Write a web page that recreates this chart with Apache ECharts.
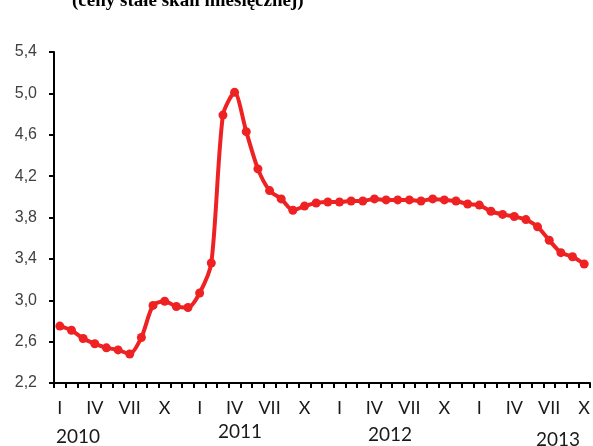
<!DOCTYPE html>
<html>
<head>
<meta charset="utf-8">
<script src="https://cdn.jsdelivr.net/npm/echarts@6/dist/echarts.min.js"></script>
<style>
  html, body { margin: 0; padding: 0; background: #fff; }
  #chart { width: 593px; height: 446px; }
</style>
</head>
<body>
<div id="chart"></div>
<script>
  // monthly labels, Jan 2010 - Oct 2013
  let romans = ['I', 'II', 'III', 'IV', 'V', 'VI', 'VII', 'VIII', 'IX', 'X', 'XI', 'XII']
  let months = []
  for (let i = 0; i < 46; i++) {
    months.push(romans[i % 12])
  }
  let years = ['2010', '2011', '2012', '2013']
  let yTicks = [2.2, 2.6, 3.0, 3.4, 3.8, 4.2, 4.6, 5.0, 5.4]

  let values = [
    2.75, 2.71, 2.63, 2.58, 2.54, 2.52, 2.48, 2.64, 2.95, 2.99, 2.94, 2.93,
    3.07, 3.36, 4.79, 5.01, 4.63, 4.27, 4.06, 3.98, 3.87, 3.91, 3.94, 3.95,
    3.95, 3.96, 3.96, 3.98, 3.97, 3.97, 3.97, 3.96, 3.98, 3.97, 3.96, 3.93,
    3.92, 3.86, 3.83, 3.81, 3.78, 3.71, 3.58, 3.46, 3.42, 3.35
  ]

  // where the year captions sit under the axis
  let yearPos = [[78, 437], [240, 432], [390, 435], [558, 440]]

  let option = {
    animation: false,
    grid: {
      left: 54,
      right: 2,
      top: 52,
      bottom: 63
    },
    xAxis: {
      type: 'category',
      data: months,
      boundaryGap: true,
      axisLine: {lineStyle: {color: '#000', width: 2}},
      axisTick: {show: true, interval: 0, length: 5, lineStyle: {color: '#000', width: 2}},
      axisLabel: {
        interval: function (idx) { return idx % 3 === 0 },
        margin: 16,
        color: '#1a1a1a',
        fontSize: 18,
        fontFamily: 'Lato'
      },
      splitLine: {show: false}
    },
    yAxis: {
      type: 'value',
      min: 2.2,
      max: 5.4,
      axisLine: {show: true, lineStyle: {color: '#000', width: 2}},
      axisTick: {show: true, length: 5, customValues: yTicks, lineStyle: {color: '#000', width: 2}},
      axisLabel: {
        customValues: yTicks,
        margin: 17,
        color: '#404040',
        fontSize: 16,
        fontFamily: 'Liberation Sans',
        formatter: function (v) { return v.toFixed(1).replace('.', ',') }
      },
      splitLine: {show: false}
    },
    graphic: years.map(function (y, i) {
      return {
        type: 'text',
        x: yearPos[i][0],
        y: yearPos[i][1],
        style: {
          text: y,
          fill: '#1a1a1a',
          font: '19px Lato',
          align: 'center',
          verticalAlign: 'middle'
        }
      }
    }).concat([{
      type: 'text',
      x: 72,
      y: -8,
      style: {
        text: '(ceny stałe skali miesięcznej)',
        fill: '#000',
        font: 'bold 19px "Liberation Serif"'
      }
    }]),
    series: [{
      type: 'line',
      data: values,
      smooth: 0.25,
      symbol: 'circle',
      symbolSize: 9,
      showAllSymbol: true,
      lineStyle: {color: '#ee2222', width: 4},
      itemStyle: {color: '#ee2222'}
    }]
  }

  let myChart = echarts.init(document.getElementById('chart'))
  myChart.setOption(option)
</script>
</body>
</html>
